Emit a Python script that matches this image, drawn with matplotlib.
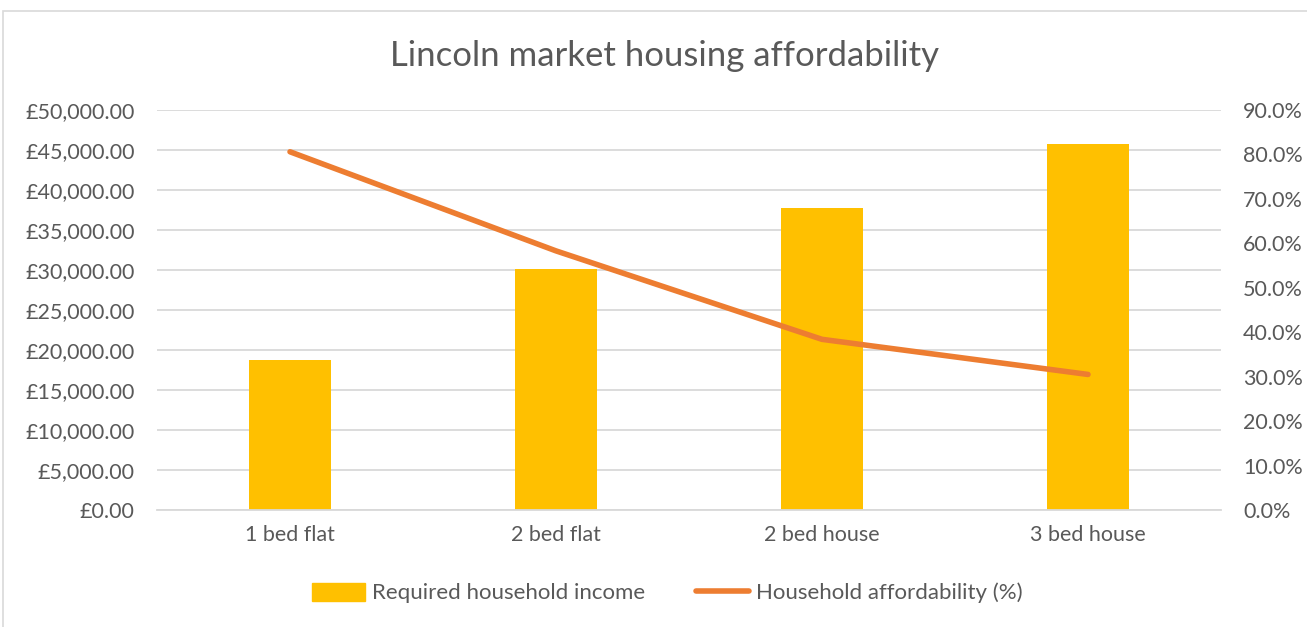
import matplotlib
matplotlib.use("Agg")
import matplotlib.pyplot as plt
from matplotlib.ticker import FuncFormatter, MultipleLocator
from matplotlib.patches import Rectangle
from matplotlib.lines import Line2D

categories = ["1 bed flat", "2 bed flat", "2 bed house", "3 bed house"]
required_income = [18700, 30100, 37750, 45700]
affordability = [80.6, 58.3, 38.4, 30.5]

plt.rcParams['font.family'] = ['Lato', 'DejaVu Sans']
txt = '#595959'
grid = '#d9d9d9'
bar_c = '#ffc000'
line_c = '#ed7d31'

fig = plt.figure(figsize=(13.07, 6.27), dpi=100)
fig.patches.append(Rectangle((3/1307, -0.1), 1.2, (627-11)/627 + 0.1, transform=fig.transFigure,
                             fill=False, edgecolor=grid, linewidth=1.2))
ax = fig.add_axes([157/1307, (627-510)/627, (1221-157)/1307, 400/627])
x = list(range(len(categories)))
ax.bar(x, required_income, width=0.31, color=bar_c, zorder=2)
ax.set_xlim(-0.5, len(categories) - 0.5)
ax.set_ylim(0, 50000)
ax.yaxis.set_major_locator(MultipleLocator(5000))
ax.yaxis.set_major_formatter(FuncFormatter(lambda v, p: f"£{v:,.2f}"))
ax.grid(axis='y', color=grid, linewidth=1.3, zorder=0)
ax.set_axisbelow(True)
for s in ['top', 'right', 'left']:
    ax.spines[s].set_visible(False)
ax.spines['bottom'].set_color(grid)
ax.spines['bottom'].set_linewidth(1.3)
ax.set_xticks(x)
ax.set_xticklabels(categories)
ax.tick_params(axis='both', length=0, colors=txt, labelsize=15.5)
ax.tick_params(axis='x', pad=11)
ax.tick_params(axis='y', pad=16)

ax2 = ax.twinx()
ax2.plot(x, affordability, color=line_c, linewidth=4, solid_capstyle='round', zorder=3)
ax2.set_ylim(0, 90)
ax2.yaxis.set_major_locator(MultipleLocator(10))
ax2.yaxis.set_major_formatter(FuncFormatter(lambda v, p: f"{v:.1f}%"))
for s in ['top', 'right', 'left', 'bottom']:
    ax2.spines[s].set_visible(False)
ax2.tick_params(axis='y', length=0, colors=txt, labelsize=15.5, pad=16)

fig.text(664/1307, 1 - 56/627, "Lincoln market housing affordability", ha='center', va='center',
         fontsize=25, color=txt)

handles = [Rectangle((0, 0), 1, 1, color=bar_c),
           Line2D([0], [0], color=line_c, linewidth=4, solid_capstyle='round')]
fig.legend(handles, ["Required household income", "Household affordability (%)"],
           loc='center', bbox_to_anchor=(667/1307, 1 - 593/627), ncol=2, frameon=False,
           fontsize=16, labelcolor=txt, handlelength=2.4, handleheight=0.9,
           handletextpad=0.3, columnspacing=2.3)

fig.savefig("out.png", dpi=100)
